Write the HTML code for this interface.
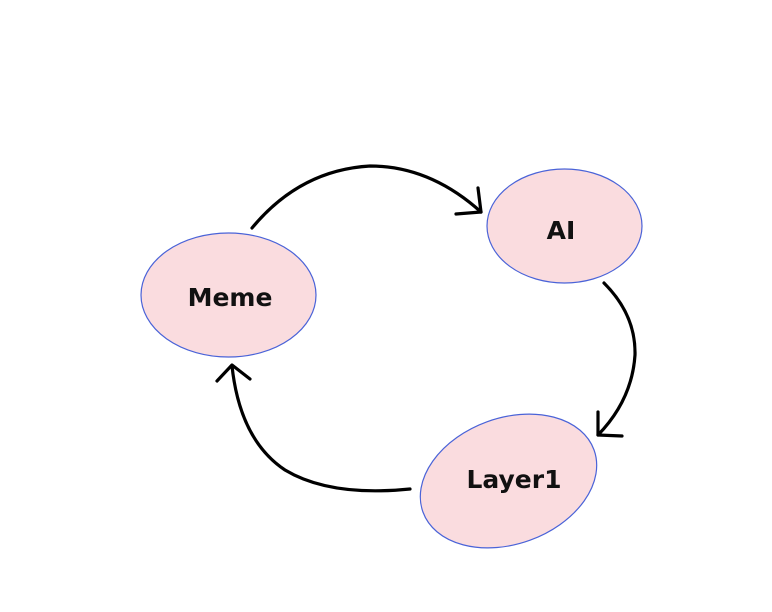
<!DOCTYPE html>
<html><head><style>body{margin:0;background:#fff}svg{display:block}</style></head><body>
<svg width="772" height="612" xmlns="http://www.w3.org/2000/svg">
<rect width="772" height="612" fill="#fff"/>
<g fill="#fadcdf" stroke="#4a63d8" stroke-width="1.2">
<ellipse cx="228.5" cy="295" rx="87.5" ry="62"/>
<ellipse cx="564.5" cy="226" rx="77.5" ry="57"/>
<ellipse cx="508.5" cy="481" rx="91" ry="63" transform="rotate(-20 508.5 481)"/>
</g>
<g fill="none" stroke="#000" stroke-width="3.2" stroke-linecap="round" stroke-linejoin="round">
<path d="M252 228 Q300 170 370 166 Q430 166 481 212"/>
<path d="M456 214 L481 212 L478 188"/>
<path d="M604 283 Q636 315 635 355 Q632 400 598 435"/>
<path d="M598 412 L598 435 L622 436"/>
<path d="M410 489 Q330 497 285 470 Q240 440 232 366"/>
<path d="M217 381 L232 365 L250 379"/>
</g>
<g font-family="'DejaVu Sans','Liberation Sans',sans-serif" font-weight="bold" font-size="25" fill="#111" text-anchor="middle">
<text x="230" y="306">Meme</text>
<text x="561" y="239">AI</text>
<text x="514" y="488">Layer1</text>
</g>
</svg>
</body></html>
